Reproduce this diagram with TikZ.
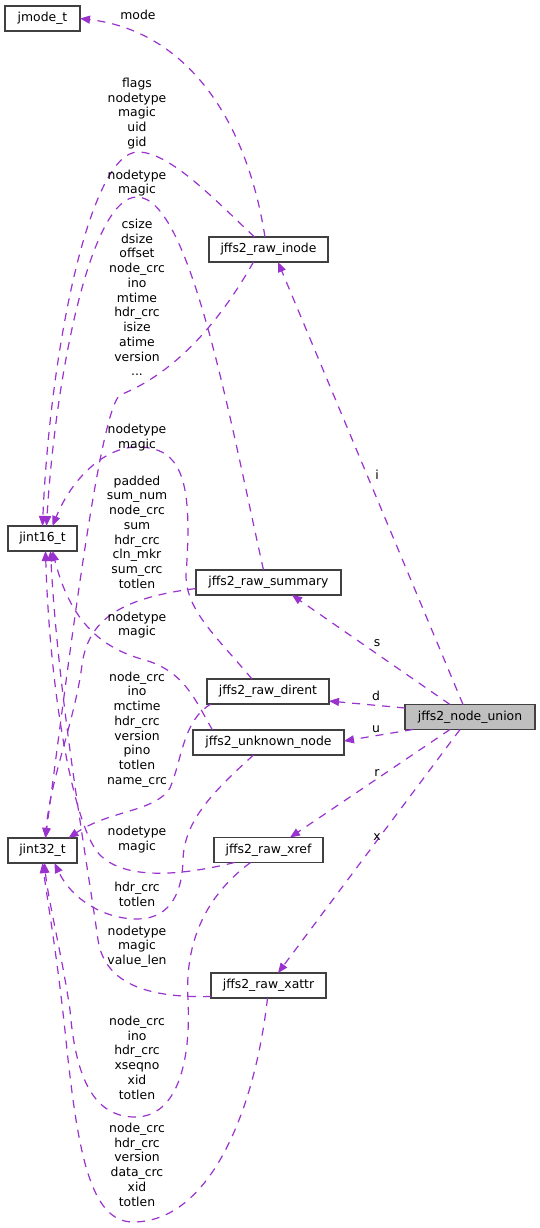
\documentclass[tikz,border=0pt]{standalone}
\usepackage{fontspec}
\setmainfont{DejaVu Sans}
\usetikzlibrary{arrows.meta}
\definecolor{edgec}{RGB}{154,50,205}
\definecolor{boxgray}{RGB}{64,64,64}
\definecolor{fillgray}{RGB}{191,191,191}
\tikzset{
  box/.style={draw=boxgray, line width=1.3pt, fill=white, minimum height=25pt, inner sep=0pt, outer sep=0pt},
  rel/.style={draw=edgec, line width=1.2pt, dash pattern=on 8pt off 7pt, -{Triangle[length=10pt,width=8pt]}},
  lbl/.style={align=center, inner sep=0pt, text=black}
}
\begin{document}
\begin{tikzpicture}[x=1pt, y=-1pt, font=\fontsize{12.4}{14.75}\selectfont]
\fill[white] (0,0) rectangle (540,1228);
\useasboundingbox (0,0) rectangle (540,1228);

% nodes
\node[box, minimum width=75pt] (jmode) at (42.5,18.5) {jmode\_t};
\node[box, minimum width=119pt] (inode) at (268.5,249.5) {jffs2\_raw\_inode};
\node[box, minimum width=69pt] (j16) at (42.5,538.5) {jint16\_t};
\node[box, minimum width=145pt] (summary) at (268.5,582.5) {jffs2\_raw\_summary};
\node[box, minimum width=122pt] (dirent) at (268,691.5) {jffs2\_raw\_dirent};
\node[box, minimum width=130pt, fill=fillgray] (union) at (470,717) {jffs2\_node\_union};
\node[box, minimum width=151pt] (unknown) at (268.5,742.5) {jffs2\_unknown\_node};
\node[box, minimum width=69pt] (j32) at (42.5,850.5) {jint32\_t};
\node[box, minimum width=109pt] (xref) at (268.5,850) {jffs2\_raw\_xref};
\node[box, minimum width=115pt] (xattr) at (268.5,985.5) {jffs2\_raw\_xattr};

% edges from node_union
\draw[rel] ([xshift=-7pt]union.north) -- ([xshift=9.5pt]inode.south);
\draw[rel] ([xshift=-20pt]union.north) -- ([xshift=23.5pt]summary.south);
\draw[rel] ([yshift=9pt]union.west) -- ([yshift=-9.5pt]dirent.east);
\draw[rel] ([xshift=-57pt]union.south) -- ([yshift=1.5pt]unknown.east);
\draw[rel] ([xshift=-20pt]union.south) -- ([xshift=21.5pt]xref.north);
\draw[rel] ([xshift=-10pt]union.south) -- ([xshift=9.5pt]xattr.north);

% edges from raw_inode
\draw[rel] ([xshift=-3.5pt]inode.north) .. controls (245,110) and (180,30) .. (jmode.east);
\draw[rel] ([xshift=-14pt]inode.north) .. controls (215,200) and (170,152) .. (138,152)
  .. controls (90,152) and (50,350) .. (j16.north);
\draw[rel] ([xshift=-15pt]inode.south) .. controls (215,330) and (170,375) .. (120,395)
  .. controls (100,410) and (70,650) .. ([xshift=3pt]j32.north);

% edges from raw_summary
\draw[rel] ([xshift=-5pt]summary.north) .. controls (230,420) and (190,197) .. (137,197)
  .. controls (90,197) and (55,380) .. ([xshift=4pt]j16.north);
\draw[rel] ([yshift=-6pt]summary.west) .. controls (120,598) and (88,620) .. (82,665)
  .. controls (75,720) and (50,780) .. ([xshift=3pt]j32.north);

% edges from raw_dirent
\draw[rel] ([xshift=-16pt]dirent.north) .. controls (215,635) and (186,610) .. (186,575)
  .. controls (193,480) and (182,447) .. (137,447)
  .. controls (105,447) and (72,478) .. ([xshift=10pt]j16.north);
\draw[rel] ([xshift=-57pt]dirent.south) .. controls (183,720) and (182,760) .. (170,788)
  .. controls (155,812) and (110,810) .. ([xshift=26pt]j32.north);

% edges from unknown_node
\draw[rel] ([xshift=-56pt]unknown.north) .. controls (195,700) and (185,672) .. (145,660)
  .. controls (100,648) and (70,620) .. ([xshift=10pt]j16.south);
\draw[rel] ([xshift=-15pt]unknown.south) .. controls (215,790) and (184,820) .. (183,860)
  .. controls (182,900) and (165,919) .. (137,919)
  .. controls (105,919) and (72,900) .. ([xshift=12pt]j32.south);

% edges from raw_xref
\draw[rel] ([xshift=-34pt]xref.south) .. controls (180,876) and (125,880) .. (100,855)
  .. controls (75,830) and (50,700) .. ([xshift=3pt]j16.south);
\draw[rel] ([xshift=-18pt]xref.south) .. controls (200,900) and (185,950) .. (188,1000)
  .. controls (191,1060) and (178,1117) .. (135,1117)
  .. controls (90,1117) and (75,1070) .. (70,1010)
  .. controls (62,955) and (48,900) .. ([xshift=2pt]j32.south);

% edges from raw_xattr
\draw[rel] ([yshift=-11pt]xattr.west) .. controls (150,998) and (105,985) .. (98,940)
  .. controls (90,880) and (58,700) .. ([xshift=8pt]j16.south);
\draw[rel] ([xshift=-1pt]xattr.south) .. controls (255,1110) and (210,1222) .. (133,1222)
  .. controls (90,1222) and (78,1150) .. (67,1050)
  .. controls (58,960) and (48,905) .. (j32.south);

% labels
\node[lbl] (li) at (377,475) {i};
\node[lbl] (ls) at (377,643) {s};
\node[lbl] (ld) at (376,696) {d};
\node[lbl] (lu) at (376,729) {u};
\node[lbl] (lr) at (377,773) {r};
\node[lbl] (lx) at (377,837) {x};

\node[lbl] (lmode) at (138,15) {mode};
\node[lbl] (lflags) at (137,113.5) {flags\\nodetype\\magic\\uid\\gid};
\node[lbl] (lsumnm) at (137,183) {nodetype\\magic};
\node[lbl] (lcsize) at (137,297.5) {csize\\dsize\\offset\\node\_crc\\ino\\mtime\\hdr\_crc\\isize\\atime\\version\\...};
\node[lbl] (ldirnm) at (137,437.5) {nodetype\\magic};
\node[lbl] (lpadded) at (137,532) {padded\\sum\_num\\node\_crc\\sum\\hdr\_crc\\cln\_mkr\\sum\_crc\\totlen};
\node[lbl] (lunknm) at (137,625) {nodetype\\magic};
\node[lbl] (ldircrc) at (137,729.5) {node\_crc\\ino\\mctime\\hdr\_crc\\version\\pino\\totlen\\name\_crc};
\node[lbl] (lxrefnm) at (137,839.5) {nodetype\\magic};
\node[lbl] (lunkhdr) at (137,894) {hdr\_crc\\totlen};
\node[lbl] (lxattrnm) at (137,946.5) {nodetype\\magic\\value\_len};
\node[lbl] (lxrefcrc) at (137,1057.5) {node\_crc\\ino\\hdr\_crc\\xseqno\\xid\\totlen};
\node[lbl] (lxattrcrc) at (137,1164.5) {node\_crc\\hdr\_crc\\version\\data\_crc\\xid\\totlen};
\end{tikzpicture}
\end{document}
